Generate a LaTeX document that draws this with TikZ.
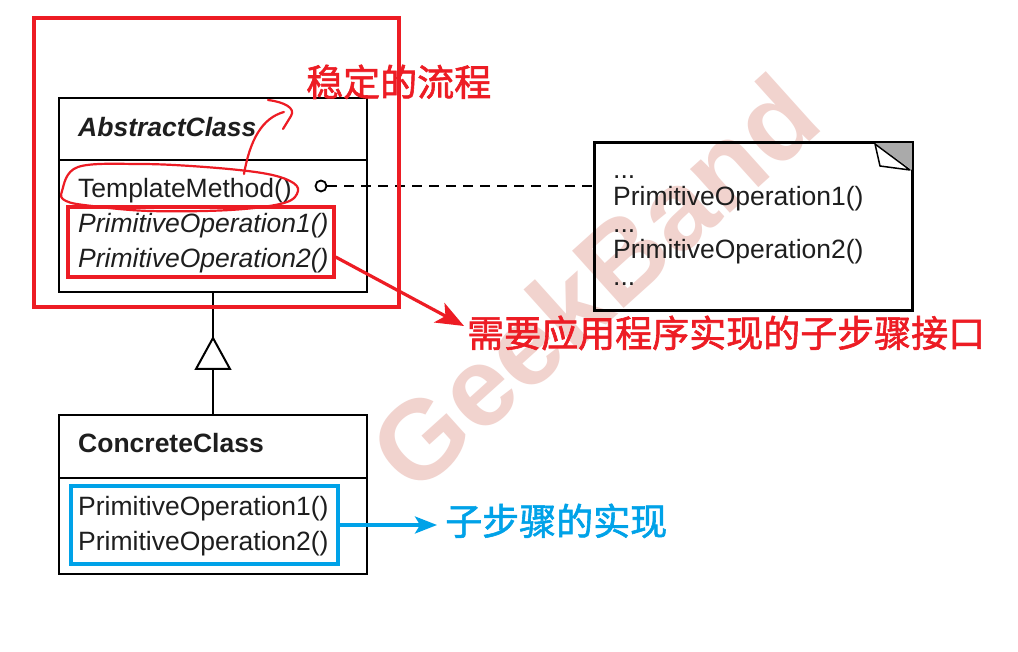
\documentclass[tikz,border=0pt]{standalone}
\usepackage{fontspec}
\setmainfont{Liberation Sans}
\newfontfamily\cjk[BoldFont=Noto Sans CJK SC,BoldFeatures={FakeBold=1.6}]{Noto Sans CJK SC}
\usetikzlibrary{arrows.meta,calc}
\definecolor{myred}{RGB}{237,28,36}
\definecolor{myblue}{RGB}{0,162,232}
\definecolor{wmark}{RGB}{238,200,194}
\definecolor{foldgray}{RGB}{170,170,170}
\definecolor{txtgray}{RGB}{30,30,30}
\begin{document}
\begin{tikzpicture}[x=1pt,y=-1pt,
  umlbox/.style={draw=black,line width=2pt,inner sep=0pt,fill=none},
  redbox/.style={draw=myred,line width=3.2pt,inner sep=0pt},
  bluebox/.style={draw=myblue,line width=3.2pt,inner sep=0pt},
  txt/.style={anchor=base west,inner sep=0pt,text=txtgray,font=\fontsize{26.5}{30}\selectfont},
  cjktxt/.style={anchor=base west,inner sep=0pt,font=\cjk\bfseries\fontsize{37}{40}\selectfont},
  hand/.style={draw=myred,line width=2.2pt,line cap=round,line join=round}]
\useasboundingbox (0,0) rectangle (1018,652);
\fill[white] (0,0) rectangle (1018,652);
% watermark
\node[rotate=42,text=wmark,opacity=0.8,inner sep=0pt,font=\fontsize{112}{120}\selectfont\bfseries] (wm) at (594,282) {GeekBand};
% boxes
\node[umlbox,minimum width=308pt,minimum height=194pt] (abs) at (213,195) {};
\draw[black,line width=2pt] (abs.west |- 0,160) -- (abs.east |- 0,160);
\node[umlbox,minimum width=308pt,minimum height=159pt] (conc) at (213,494.5) {};
\draw[black,line width=2pt] (conc.west |- 0,478) -- (conc.east |- 0,478);
% texts
\node[txt,font=\fontsize{26.5}{30}\selectfont\bfseries\itshape] (absname) at (78,137) {AbstractClass};
\node[txt] (tm) at (78,198) {TemplateMethod()};
\node[txt,font=\fontsize{26.5}{30}\selectfont\itshape] (p1) at (78,233) {PrimitiveOperation1()};
\node[txt,font=\fontsize{26.5}{30}\selectfont\itshape] (p2) at (78,268) {PrimitiveOperation2()};
\node[txt,font=\fontsize{26.5}{30}\selectfont\bfseries] (concname) at (78,453) {ConcreteClass};
\node[txt] (c1) at (78,515) {PrimitiveOperation1()};
\node[txt] (c2) at (78,550) {PrimitiveOperation2()};
% note
\node[umlbox,minimum width=317pt,minimum height=167pt] (note) at (753.5,226.5) {};
\fill[foldgray] (875,143) -- (912,143) -- (912,170) -- cycle;
\draw[black,line width=1.5pt,fill=white,line join=round] (875,144) -- (880,166) -- (910,170) -- cycle;
\draw[black,line width=2pt] (note.north west) rectangle (note.south east);
\node[txt] (n0) at (613,179) {...};
\node[txt] (n1) at (613,206) {PrimitiveOperation1()};
\node[txt] (n2) at (613,233) {...};
\node[txt] (n3) at (613,259) {PrimitiveOperation2()};
\node[txt] (n4) at (613,286) {...};
% dashed link
\node[circle,draw=black,line width=1.8pt,minimum size=11pt,inner sep=0pt] (dot) at (321,186) {};
\draw[black,line width=2pt,dash pattern=on 10pt off 7pt] (dot.east) -- (dot.east -| note.west);
% inheritance
\coordinate (apex) at (abs.south |- 0,338);
\coordinate (tbase) at (abs.south |- 0,369);
\draw[black,line width=2pt] (abs.south) -- (apex);
\draw[black,line width=2pt,fill=white,line join=miter] (apex) -- ($(tbase)+(-17,0)$) -- ($(tbase)+(17,0)$) -- cycle;
\draw[black,line width=2pt] (tbase) -- (conc.north);
% red annotations
\node[redbox,minimum width=365pt,minimum height=289pt] (stable) at (216.5,162.5) {};
\node[redbox,minimum width=266pt,minimum height=70pt] (prim) at (201,242) {};
\node[cjktxt,text=myred] (t1) at (306,96) {稳定的流程};
\node[cjktxt,text=myred] (t2) at (467,347) {需要应用程序实现的子步骤接口};
\coordinate (rtip) at (464,326);
\draw[myred,line width=3.2pt,-{Stealth[length=28pt,width=22pt,inset=7pt]}] (prim.east |- 0,257) -- (rtip);
% freehand ellipse around TemplateMethod
\draw[hand] plot[smooth cycle,tension=0.6] coordinates {(62,191) (78,167) (140,164) (205,167) (262,173) (290,181) (298,191) (284,203) (230,210) (150,211) (92,206) (66,201)};
\draw[hand] (244,174) .. controls (250,140) and (262,118) .. (284,112);
\draw[hand] (268,100) .. controls (284,102) and (296,108) .. (291,116) -- (283,129);
% blue annotations
\node[bluebox,minimum width=267pt,minimum height=78pt] (impl) at (204.5,525) {};
\node[cjktxt,text=myblue] (t3) at (445,535) {子步骤的实现};
\coordinate (btip) at (437,525);
\draw[myblue,line width=3.2pt,-{Stealth[length=22pt,width=17pt,inset=5pt]}] (impl.east) -- (btip);
\end{tikzpicture}
\end{document}
